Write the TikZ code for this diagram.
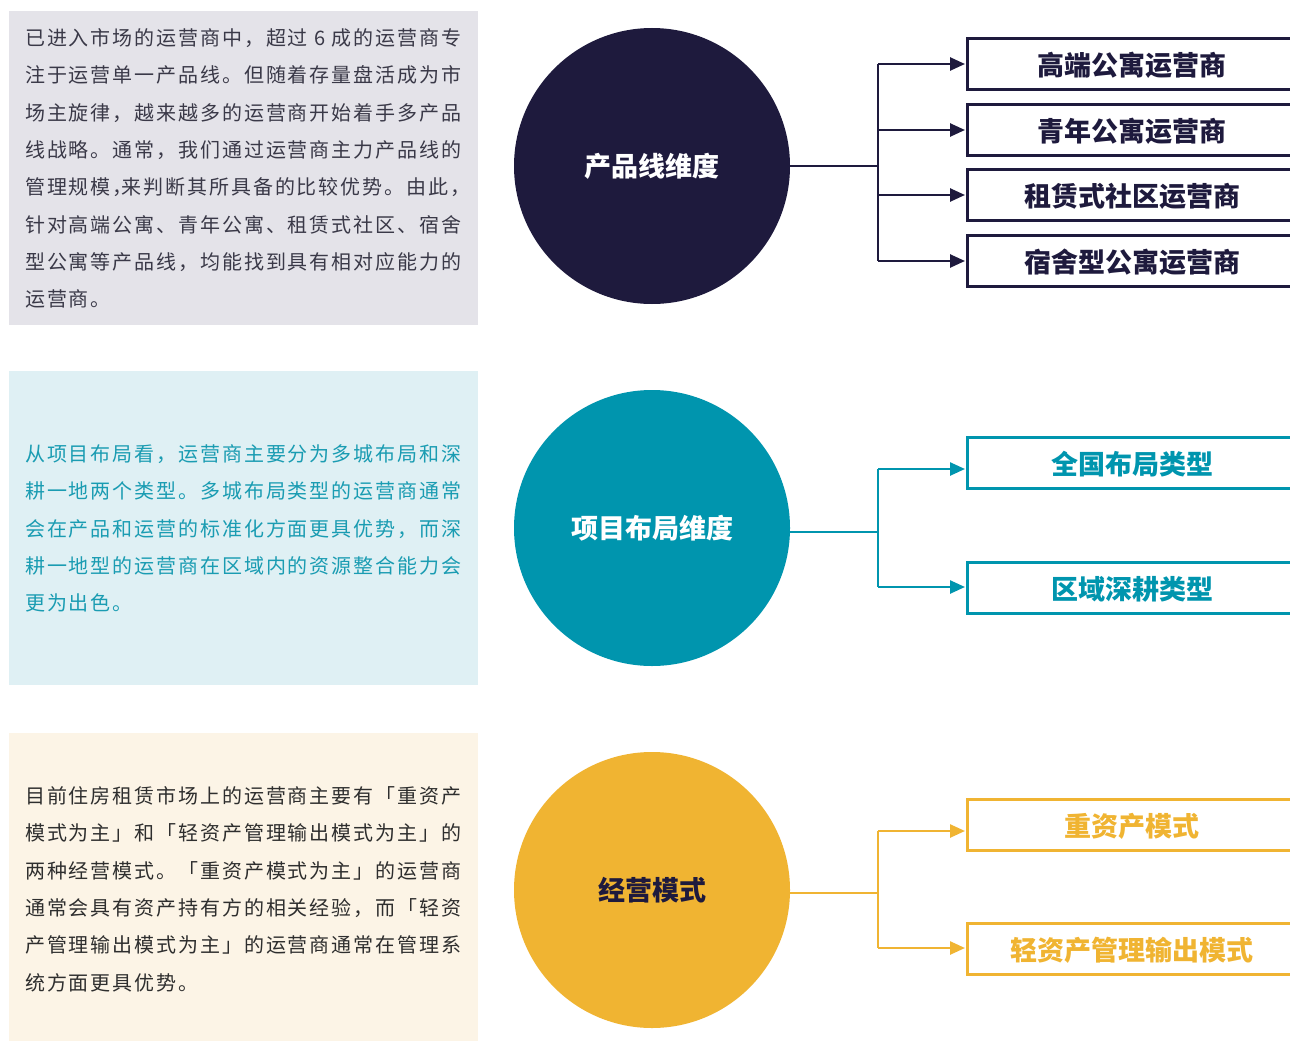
\documentclass[tikz,border=0pt]{standalone}
\usepackage{fontspec}
\setmainfont{Noto Sans CJK SC}
\newfontfamily\bodyfont[LetterSpace=9.5]{Noto Sans CJK SC}
\usetikzlibrary{arrows.meta}
\definecolor{navy}{HTML}{1E1A3D}
\definecolor{teal}{HTML}{0095AE}
\definecolor{gold}{HTML}{F0B432}
\definecolor{greybg}{HTML}{E4E3E9}
\definecolor{cyanbg}{HTML}{DFF0F4}
\definecolor{creambg}{HTML}{FCF4E6}
\definecolor{greytext}{HTML}{3A3948}
\definecolor{darktext}{HTML}{2E2E2E}
\definecolor{tealtext}{HTML}{1A9CB2}
\tikzset{
  para/.style={anchor=west, inner sep=0pt, font=\bodyfont\fontsize{20}{24}\selectfont},
  bigcircle/.style={circle, minimum size=276pt, inner sep=0pt, font=\bfseries\fontsize{27}{32}\selectfont},
  labelbox/.style={draw, line width=2.5pt, minimum width=330pt, minimum height=51pt, anchor=west, inner sep=0pt, font=\bfseries\fontsize{27}{32}\selectfont, text depth=0pt},
  conn/.style={line width=2.5pt},
  arr/.style={line width=2.5pt, -{Triangle[length=15pt,width=13pt]}, shorten >=1pt},
}
\begin{document}
\begin{tikzpicture}[x=1pt,y=-1pt]
\useasboundingbox (0,0) rectangle (1290,1041);
\clip (0,0) rectangle (1290,1041);
\fill[white] (0,0) rectangle (1290,1041);
% ---------- section 1 ----------
\fill[greybg] (9,11) rectangle (478,325);
\begin{scope}[every node/.style={para, text=greytext}]
\node (p1a) at (25,38) {已进入市场的运营商中，超过 6 成的运营商专};
\node (p1b) at (25,75) {注于运营单一产品线。但随着存量盘活成为市};
\node (p1c) at (25,113) {场主旋律，越来越多的运营商开始着手多产品};
\node (p1d) at (25,150) {线战略。通常，我们通过运营商主力产品线的};
\node (p1e) at (25,187) {管理规模，\kern-11pt来判断其所具备的比较优势。由此，};
\node (p1f) at (25,225) {针对高端公寓、青年公寓、租赁式社区、宿舍};
\node (p1g) at (25,262) {型公寓等产品线，均能找到具有相对应能力的};
\node (p1h) at (25,299) {运营商。};
\end{scope}
\node[bigcircle, fill=navy, text=white] (c1) at (652,166) {产品线维度};
\coordinate (j1) at (878,166);
\draw[conn, navy] (c1.east) -- (j1);
\begin{scope}[every node/.style={labelbox, draw=navy, text=navy}]
\node (b11) at (966,64) {高端公寓运营商};
\node (b12) at (966,130) {青年公寓运营商};
\node (b13) at (966,195) {租赁式社区运营商};
\node (b14) at (966,261) {宿舍型公寓运营商};
\end{scope}
\draw[conn, navy] (j1 |- b11.west) -- (j1 |- b14.west);
\foreach \b in {b11,b12,b13,b14} \draw[arr, navy] (j1 |- \b.west) -- (\b.west);
% ---------- section 2 ----------
\fill[cyanbg] (9,371) rectangle (478,685);
\begin{scope}[every node/.style={para, text=tealtext}]
\node (p2a) at (25,454) {从项目布局看，运营商主要分为多城布局和深};
\node (p2b) at (25,491) {耕一地两个类型。多城布局类型的运营商通常};
\node (p2c) at (25,529) {会在产品和运营的标准化方面更具优势，而深};
\node (p2d) at (25,566) {耕一地型的运营商在区域内的资源整合能力会};
\node (p2e) at (25,603) {更为出色。};
\end{scope}
\node[bigcircle, fill=teal, text=white] (c2) at (652,528) {项目布局维度};
\coordinate (j2) at (878,532);
\draw[conn, teal] (c2.east |- j2) -- (j2);
\begin{scope}[every node/.style={labelbox, draw=teal, text=teal}]
\node (b21) at (966,463) {全国布局类型};
\node (b22) at (966,588) {区域深耕类型};
\end{scope}
\draw[conn, teal] (j2 |- 0,469) -- (j2 |- 0,587);
\draw[arr, teal] (j2 |- 0,469) -- (b21.west |- 0,469);
\draw[arr, teal] (j2 |- 0,587) -- (b22.west |- 0,587);
% ---------- section 3 ----------
\fill[creambg] (9,733) rectangle (478,1045);
\begin{scope}[every node/.style={para, text=darktext}]
\node (p3a) at (25,796) {目前住房租赁市场上的运营商主要有「重资产};
\node (p3b) at (25,833) {模式为主」和「轻资产管理输出模式为主」的};
\node (p3c) at (25,871) {两种经营模式。「重资产模式为主」的运营商};
\node (p3d) at (25,908) {通常会具有资产持有方的相关经验，而「轻资};
\node (p3e) at (25,945) {产管理输出模式为主」的运营商通常在管理系};
\node (p3f) at (25,983) {统方面更具优势。};
\end{scope}
\node[bigcircle, fill=gold, text=navy] (c3) at (652,890) {经营模式};
\coordinate (j3) at (878,893);
\draw[conn, gold] (c3.east |- j3) -- (j3);
\begin{scope}[every node/.style={labelbox, draw=gold, text=gold}]
\node (b31) at (966,825) {重资产模式};
\node (b32) at (966,949) {轻资产管理输出模式};
\end{scope}
\draw[conn, gold] (j3 |- 0,831) -- (j3 |- 0,948);
\draw[arr, gold] (j3 |- 0,831) -- (b31.west |- 0,831);
\draw[arr, gold] (j3 |- 0,948) -- (b32.west |- 0,948);
\end{tikzpicture}
\end{document}
